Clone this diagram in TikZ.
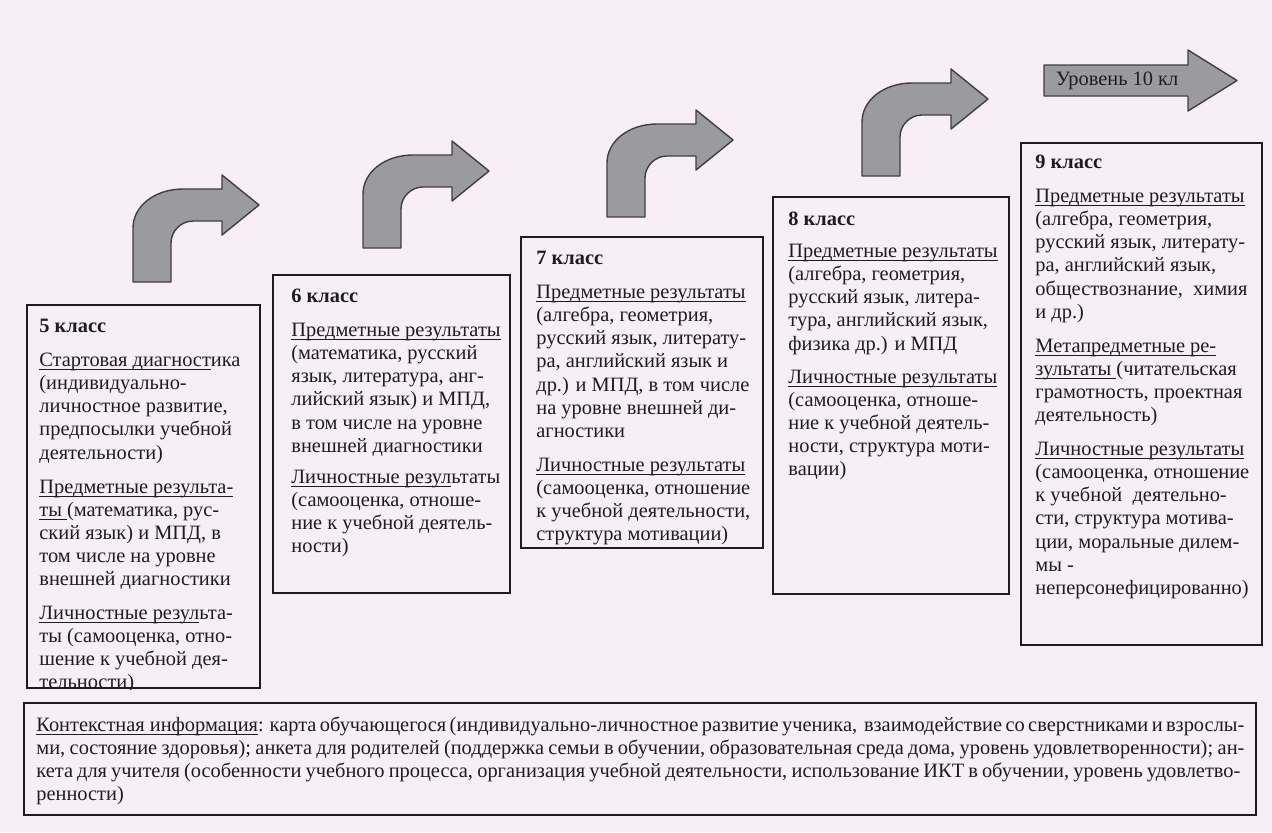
\documentclass[tikz,border=0pt]{standalone}
\usepackage{fontspec}
\setmainfont{Liberation Serif}
\usetikzlibrary{fit}

\definecolor{paper}{RGB}{247,238,246}
\definecolor{ink}{RGB}{30,28,34}
\definecolor{arrowgray}{RGB}{155,154,157}

% underline that keeps the text on its own baseline
\newcommand\undl[1]{\setbox0\hbox{#1}\rlap{\rule[-1.7pt]{\wd0}{0.45pt}}\box0}

\tikzset{
  klassbox/.style={draw=ink, line width=1pt, inner sep=0pt},
  klasstext/.style={anchor=north west, align=left, inner sep=0pt, text=ink,
    font=\fontsize{10.2}{11.55}\selectfont},
  arrowbody/.style={fill=arrowgray, draw=ink!85, line width=0.7pt, line join=round},
  pics/bentarrow/.style={code={
    \draw[arrowbody] (0,0) -- (0,-54) .. controls (0,-76) and (22,-93) .. (50,-93)
      -- (89,-93) -- (89,-107) -- (126,-77) -- (89,-47) -- (89,-61) -- (60,-61)
      .. controls (48,-61) and (38,-51) .. (38,-39) -- (38,0) -- cycle;}}
}

\begin{document}
\begin{tikzpicture}[x=0.5pt, y=-0.5pt]
      \fill[paper] (0,0) rectangle (1272,832);
      \useasboundingbox (0,0) rectangle (1272,832);

      % arrows between the classes
      \pic at (133,282) {bentarrow};
      \pic at (363,248) {bentarrow};
      \pic at (607,217) {bentarrow};
      \pic at (862,176) {bentarrow};
      \draw[arrowbody] (1044,65) -- (1188,65) -- (1188,50) -- (1237,80.5)
        -- (1188,111) -- (1188,96) -- (1044,96) -- cycle;
      \node[text=ink, inner sep=0pt, font=\fontsize{10.2}{11.55}\selectfont] (lvl) at (1117,81) {Уровень 10 кл};

      % boxes
      \node[klassbox, fit={(27,305) (260,688)}] (k5) {};
      \node[klassbox, fit={(273,275) (510,593)}] (k6) {};
      \node[klassbox, fit={(521,237) (763,548)}] (k7) {};
      \node[klassbox, fit={(773,197) (1009,594)}] (k8) {};
      \node[klassbox, fit={(1021,143) (1262,645)}] (k9) {};
      \node[klassbox, fit={(24,703) (1256,815)}] (ctx) {};

      \begin{scope}
        \clip (k5.north west) rectangle (k5.south east);
        \node[klasstext] (t5) at ([shift={(13,12)}]k5.north west) {\strut\textbf{5 класс}\\[5.5pt]
          \undl{Стартовая диагност}ика\\
          (индивидуально-\\
          личностное развитие,\\
          предпосылки учебной\\
          деятельности)\\[5.5pt]
          \undl{Предметные результа-}\\
          \undl{ты }(математика, рус-\\
          ский язык) и МПД, в\\
          том числе на уровне\\
          внешней диагностики\\[5.5pt]
          \undl{Личностные резул}ьта-\\
          ты (самооценка, отно-\\
          шение к учебной дея-\\
          тельности)};
      \end{scope}

      \node[klasstext] (t6) at ([shift={(19,12)}]k6.north west) {\strut\textbf{6 класс}\\[5.5pt]
        \undl{Предметные результаты}\\
        (математика, русский\\
        язык, литература, анг-\\
        лийский язык) и МПД,\\
        в том числе на уровне\\
        внешней диагностики\\[4pt]
        \undl{Личностные резул}ьтаты\\
        (самооценка, отноше-\\
        ние к учебной деятель-\\
        ности)};

      \node[klasstext] (t7) at ([shift={(16,12)}]k7.north west) {\strut\textbf{7 класс}\\[5.5pt]
        \undl{Предметные результаты}\\
        (алгебра, геометрия,\\
        русский язык, литерату-\\
        ра, английский язык и\\
        др.) и МПД, в том числе\\
        на уровне внешней ди-\\
        агностики\\[5.5pt]
        \undl{Личностные результаты}\\
        (самооценка, отношение\\
        к учебной деятельности,\\
        структура мотивации)};

      \node[klasstext] (t8) at ([shift={(16,13)}]k8.north west) {\strut\textbf{8 класс}\\[4.5pt]
        \undl{Предметные результаты}\\
        (алгебра, геометрия,\\
        русский язык, литера-\\
        тура, английский язык,\\
        физика др.) и МПД\\[5pt]
        \undl{Личностные результаты}\\
        (самооценка, отноше-\\
        ние к учебной деятель-\\
        ности, структура моти-\\
        вации)};

      \node[klasstext] (t9) at ([shift={(15,10)}]k9.north west) {\strut\textbf{9 класс}\\[5.5pt]
        \undl{Предметные результаты}\\
        (алгебра, геометрия,\\
        русский язык, литерату-\\
        ра, английский язык,\\
        обществознание,\ \ химия\\
        и др.)\\[5.5pt]
        \undl{Метапредметные ре-}\\
        \undl{зультаты }(читательская\\
        грамотность, проектная\\
        деятельность)\\[5.5pt]
        \undl{Личностные результаты}\\
        (самооценка, отношение\\
        к учебной\ \ деятельно-\\
        сти, структура мотива-\\
        ции, моральные дилем-\\
        мы -\\
        неперсонефицированно)};

      \node[klasstext] (tctx) at ([shift={(13,13)}]ctx.north west) {\strut
        \makebox[604pt][s]{\undl{Контекстная информация}: карта обучающегося (индивидуально-личностное развитие ученика,\ \ взаимодействие со сверстниками и взрослы-}\\
        \makebox[604pt][s]{ми, состояние здоровья); анкета для родителей (поддержка семьи в обучении, образовательная среда дома, уровень удовлетворенности); ан-}\\
        \makebox[602pt][s]{кета для учителя (особенности учебного процесса, организация учебной деятельности, использование ИКТ в обучении, уровень удовлетво-}\\
        ренности)};
\end{tikzpicture}
\end{document}
